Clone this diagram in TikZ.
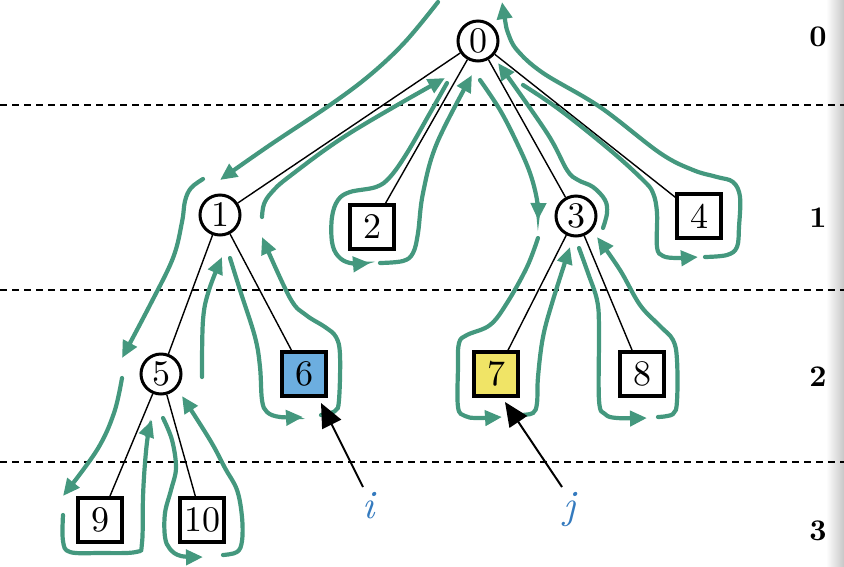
\documentclass[tikz,border=0pt]{standalone}
\usepackage{fontspec}
\setmainfont{lmroman10-regular.otf}[BoldFont=lmroman10-bold.otf,ItalicFont=lmroman10-italic.otf]
\usetikzlibrary{arrows.meta}
\definecolor{tourgreen}{RGB}{68,152,126}
\definecolor{leafblue}{RGB}{108,174,224}
\definecolor{leafyellow}{RGB}{240,228,102}
\definecolor{ptrblue}{RGB}{52,122,190}
\begin{document}
\begin{tikzpicture}[x=1pt,y=-1pt,
  inner/.style={circle,draw,line width=3pt,minimum size=40pt,inner sep=0pt,
    fill=white,font=\fontsize{36}{40}\selectfont},
  leaf/.style={rectangle,draw,line width=3.5pt,minimum size=44pt,inner sep=0pt,
    fill=white,font=\fontsize{36}{40}\selectfont},
  edge/.style={line width=1.4pt},
  tour/.style={draw=tourgreen,line width=4.2pt,line cap=round,
    -{Triangle[length=17pt,width=15pt]}},
  levelnum/.style={font=\fontsize{30}{34}\selectfont\bfseries},
  levelline/.style={dash pattern=on 7pt off 5pt,line width=1.5pt},
  pointer/.style={line width=2pt,-{Triangle[length=24pt,width=21pt]}},
  ptrlabel/.style={text=ptrblue,inner sep=0pt,font=\fontsize{40}{44}\selectfont\itshape}
]
\useasboundingbox (0,0) rectangle (844,566);

% page edge shadow
\shade[left color=white,right color=black!22] (826,0) rectangle (844,566);

% level separators and level numbers
\draw[levelline] (0,105) -- (844,105);
\draw[levelline] (0,290) -- (844,290);
\draw[levelline] (0,462) -- (844,462);
\node[levelnum] (lv0) at (818,37) {0};
\node[levelnum] (lv1) at (818,218) {1};
\node[levelnum] (lv2) at (818,377) {2};
\node[levelnum] (lv3) at (818,531) {3};

% tree nodes
\node[inner] (n0) at (478,41) {0};
\node[inner] (n1) at (220,215) {1};
\node[leaf]  (n2) at (372,227) {2};
\node[inner] (n3) at (576,216) {3};
\node[leaf]  (n4) at (699,216) {4};
\node[inner] (n5) at (161,374) {5};
\node[leaf,fill=leafblue]   (n6) at (304,374) {6};
\node[leaf,fill=leafyellow] (n7) at (496,374) {7};
\node[leaf]  (n8) at (642,374) {8};
\node[leaf]  (n9) at (100,520) {9};
\node[leaf]  (n10) at (202,520) {10};

% tree edges
\draw[edge] (n0) -- (n1);
\draw[edge] (n0) -- (n2);
\draw[edge] (n0) -- (n3);
\draw[edge] (n0) -- (n4);
\draw[edge] (n1) -- (n5);
\draw[edge] (n1) -- (n6);
\draw[edge] (n3) -- (n7);
\draw[edge] (n3) -- (n8);
\draw[edge] (n5) -- (n9);
\draw[edge] (n5) -- (n10);

% Euler tour around the tree
\draw[tour] plot[smooth,tension=0.6] coordinates {(438,2) (405,42) (370,75) (330,105) (270,145) (220,180)};
\draw[tour] plot[smooth,tension=0.6] coordinates {(203,179) (191,188) (185,201) (182,222) (173,258) (150,305) (122,358)};
\draw[tour] plot[smooth,tension=0.6] coordinates {(122,378) (114,413) (97,450) (63,496)};
\draw[tour] plot[smooth,tension=0.6] coordinates {(63,515) (63,541) (70,552) (100,553) (136,552) (142,543) (143,497) (145,463) (148,435) (152,420)};
\draw[tour] plot[smooth,tension=0.6] coordinates {(163,418) (172,440) (176,468) (171,490) (165,513) (165,537) (170,549) (181,556) (203,557)};
\draw[tour] plot[smooth,tension=0.6] coordinates {(223,555) (237,552) (242,541) (242,517) (237,490) (225,468) (210,440) (182,396)};
\draw[tour] plot[smooth,tension=0.6] coordinates {(202,377) (203,320) (209,290) (222,257)};
\draw[tour] plot[smooth,tension=0.6] coordinates {(230,258) (240,290) (255,337) (260,367) (262,400) (267,412) (280,417) (303,417)};
\draw[tour] plot[smooth,tension=0.6] coordinates {(321,415) (335,411) (339,400) (340,355) (336,337) (325,327) (306,315) (290,298) (262,237)};
\draw[tour] plot[smooth,tension=0.6] coordinates {(262,217) (264,204) (272,192) (290,176) (350,133) (445,78)};
\draw[tour] plot[smooth,tension=0.6] coordinates {(447,83) (430,113) (407,153) (390,177) (376,187) (350,192) (338,200) (332,217) (332,242) (338,256) (350,263) (370,263)};
\draw[tour] plot[smooth,tension=0.6] coordinates {(380,263) (403,261) (413,253) (418,233) (423,193) (437,143) (472,75)};
\draw[tour] plot[smooth,tension=0.6] coordinates {(480,80) (500,110) (517,143) (530,173) (537,200) (538,220)};
\draw[tour] plot[smooth,tension=0.6] coordinates {(538,238) (527,267) (507,303) (490,325) (467,335) (459,343) (458,367) (458,407) (465,416) (477,418) (502,417)};
\draw[tour] plot[smooth,tension=0.6] coordinates {(520,415) (533,413) (537,403) (538,377) (543,337) (553,300) (570,247)};
\draw[tour] plot[smooth,tension=0.6] coordinates {(579,248) (588,273) (597,300) (599,327) (599,400) (605,414) (617,418) (647,418)};
\draw[tour] plot[smooth,tension=0.6] coordinates {(658,417) (673,414) (677,401) (677,360) (673,340) (660,326) (640,305) (620,270) (597,237)};
\draw[tour] plot[smooth,tension=0.6] coordinates {(603,228) (607,213) (605,200) (593,187) (578,180) (567,170) (547,133) (498,63)};
\draw[tour] plot[smooth,tension=0.6] coordinates {(523,85) (560,110) (610,150) (643,180) (653,193) (657,213) (657,247) (663,256) (677,258) (698,257)};
\draw[tour] plot[smooth,tension=0.6] coordinates {(705,257) (727,255) (737,247) (739,227) (740,197) (733,182) (717,177) (693,170) (660,153) (600,107) (543,73) (517,50) (508,33) (505,20) (502,2)};

% pointers i and j
\node[ptrlabel,anchor=base] (pi) at (369,518) {i};
\node[ptrlabel,anchor=base] (pj) at (570,518) {j};
\coordinate (tipi) at (321,403);
\coordinate (tipj) at (505,402);
\coordinate (taili) at (363,487);
\coordinate (tailj) at (562,487);
\draw[pointer] (taili) -- (tipi);
\draw[pointer] (tailj) -- (tipj);
\end{tikzpicture}
\end{document}
